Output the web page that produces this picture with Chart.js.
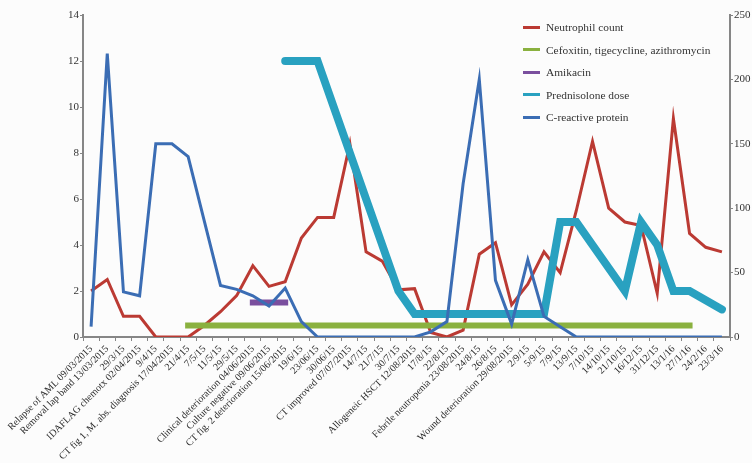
<!DOCTYPE html>
<html>
<head>
<meta charset="utf-8">
<script src="https://cdn.jsdelivr.net/npm/chart.js@4.4.0/dist/chart.umd.min.js"></script>
<style>
    html, body { margin: 0; padding: 0; background: #fcfcfc; }
    #wrap { position: relative; width: 752px; height: 463px; }
    #legend { position: absolute; left: 523px; top: 16px; font-family: 'Liberation Serif', serif; font-size: 11.4px; color: #333; }
    #legend .item { height: 22.5px; display: flex; align-items: center; white-space: nowrap; }
    #legend .swatch { width: 17px; height: 3px; margin-right: 6px; }
</style>
</head>
<body>
<div id="wrap">
    <canvas id="myChart" width="752" height="463"></canvas>
    <div id="legend"></div>
</div>
<script>
//********************************************************************************//
//                            Data
//********************************************************************************//
var labels = [
    'Relapse of AML 09/03/2015', 'Removal lap band 13/03/2015', '29/3/15', 'IDAFLAG chemotx 02/04/2015',
    '9/4/15', 'CT fig 1, M. abs. diagnosis 17/04/2015', '21/4/15', '7/5/15', '11/5/15', '29/5/15',
    'Clinical deterioration 04/06/2015', 'Culture negative 09/06/2015', 'CT fig. 2 deterioration 15/06/2015',
    '19/6/15', '23/06/15', '30/06/15', 'CT improved 07/07/2015', '14/7/15', '21/7/15', '30/7/15',
    'Allogeneic HSCT 12/08/2015', '17/8/15', '22/8/15', 'Febrile neutropenia 23/08/2015', '24/8/15',
    '26/8/15', 'Wound deterioration 29/08/2015', '2/9/15', '5/9/15', '7/9/15', '13/9/15', '7/10/15',
    '14/10/15', '21/10/15', '16/12/15', '31/12/15', '13/1/16', '27/1/16', '24/2/16', '23/3/16'
];

var neutrophils = [2.0, 2.5, 0.9, 0.9, 0, 0, 0, 0.5, 1.1, 1.8, 3.1, 2.2, 2.4, 4.3, 5.2, 5.2, 8.4, 3.7, 3.3, 2.05,
    2.1, 0.2, 0, 0.3, 3.6, 4.1, 1.4, 2.3, 3.7, 2.8, 5.5, 8.5, 5.6, 5.0, 4.85, 1.9, 9.5, 4.5, 3.9, 3.7];

var cefoxitin = [null, null, null, null, null, null, 0.5, 0.5, 0.5, 0.5, 0.5, 0.5, 0.5, 0.5, 0.5, 0.5, 0.5, 0.5, 0.5, 0.5,
    0.5, 0.5, 0.5, 0.5, 0.5, 0.5, 0.5, 0.5, 0.5, 0.5, 0.5, 0.5, 0.5, 0.5, 0.5, 0.5, 0.5, 0.5, null, null];

var amikacin = [null, null, null, null, null, null, null, null, null, null, 1.5, 1.5, 1.5, null, null, null, null, null, null, null,
    null, null, null, null, null, null, null, null, null, null, null, null, null, null, null, null, null, null, null, null];

var prednisolone = [null, null, null, null, null, null, null, null, null, null, null, null, 12, 12, 12, 10, 8, 6, 4, 2,
    1, 1, 1, 1, 1, 1, 1, 1, 1, 5, 5, 4, 3, 2, 5, 4, 2, 2, 1.6, 1.2];

var crp = [8, 220, 35, 32, 150, 150, 140, 90, 40, 37, 32, 24, 38, 12, 0, 0, 0, 0, 0, 0,
    0, 4, 12, 119, 200, 44, 10, 60, 16, 8, 0, 0, 0, 0, 0, 0, 0, 0, 0, 0];

var Dashboard = function () {

    var tickFont = { family: "'Liberation Serif', serif", size: 11 };
    var xFont = { family: "'Liberation Serif', serif", size: 10 };
    var axisGray = '#868686';

    const data = {
        labels: labels,
        datasets: [
            { label: 'Neutrophil count', data: neutrophils, borderColor: '#bb3a33', borderWidth: 3, yAxisID: 'y', order: 4 },
            { label: 'Cefoxitin, tigecycline, azithromycin', data: cefoxitin, borderColor: '#8ab13f', borderWidth: 6,
                borderCapStyle: 'square', yAxisID: 'y', order: 3 },
            { label: 'Amikacin', data: amikacin, borderColor: '#7a4f9e', borderWidth: 6,
                borderCapStyle: 'square', yAxisID: 'y', order: 2 },
            { label: 'Prednisolone dose', data: prednisolone, borderColor: '#29a1c0', borderWidth: 8,
                borderCapStyle: 'round', yAxisID: 'y', order: 1 },
            { label: 'C-reactive protein', data: crp, borderColor: '#3b6db4', borderWidth: 3, yAxisID: 'y2', order: 0 }
        ]
    };

    const config = {
        type: 'line',
        data: data,
        options: {
            responsive: false,
            animation: false,
            layout: { padding: { top: 15, left: 0, right: 0, bottom: 0 } },
            elements: { point: { radius: 0 }, line: { tension: 0, fill: false } },
            plugins: { legend: { display: false }, tooltip: { enabled: false } },
            scales: {
                x: {
                    offset: true,
                    grid: { drawOnChartArea: false, offset: true, tickLength: 4, color: axisGray },
                    border: { color: axisGray, width: 2 },
                    ticks: { autoSkip: false, minRotation: 45, maxRotation: 45, padding: 2, color: '#2a2a2a', font: xFont },
                    afterFit: function (s) { s.height = 126; s.paddingLeft = 0; s.paddingRight = 0; }
                },
                y: {
                    position: 'left', min: 0, max: 14,
                    grid: { drawOnChartArea: false, tickLength: 3, color: axisGray },
                    border: { color: axisGray, width: 2 },
                    ticks: { stepSize: 2, padding: 1, color: '#333', font: tickFont },
                    afterFit: function (s) { s.width = 83; }
                },
                y2: {
                    position: 'right', min: 0, max: 250,
                    grid: { drawOnChartArea: false, tickLength: 3, color: axisGray },
                    border: { color: axisGray, width: 2 },
                    ticks: { stepSize: 50, padding: 1, color: '#333', font: tickFont },
                    afterFit: function (s) { s.width = 22; }
                }
            }
        }
    };

    var initLegend = function () {
        var html = '';
        data.datasets.forEach(function (ds) {
            html += '<div class="item"><span class="swatch" style="background:' + ds.borderColor + '"></span>' + ds.label + '</div>';
        });
        document.getElementById('legend').innerHTML = html;
    };

    var initChart = function () {
        new Chart(document.getElementById('myChart'), config);
    };

    return {
        init: function () {
            initChart();
            initLegend();
        }
    };
}();

window.addEventListener('load', function () {
    Dashboard.init();
});
</script>
</body>
</html>
